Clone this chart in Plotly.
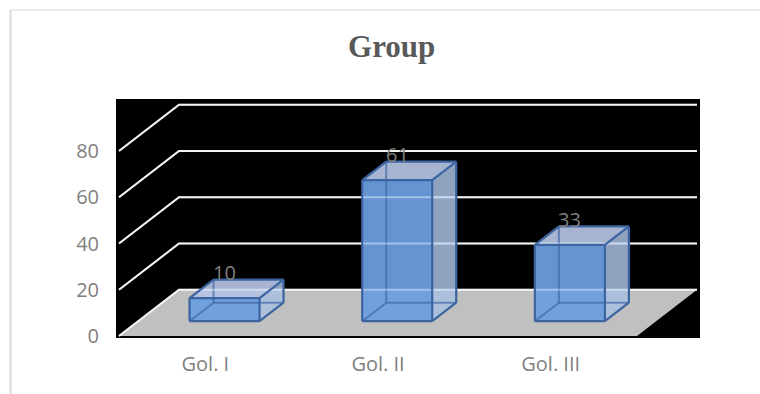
import plotly.graph_objects as go

# ---- data ----
categories = ["Gol. I", "Gol. II", "Gol. III"]
values = [10, 61, 33]
y_ticks = [0, 20, 40, 60, 80]
title_text = "Group"

# ---- pseudo-3D projection parameters (axis units) ----
DX = 0.3475     # horizontal shift of the back wall (category units)
DZ = 20.0       # vertical shift of the back wall (value units)
D_FRONT = 0.32  # bar front depth (0 = front, 1 = back)
D_BACK = 0.72   # bar back depth
HW = 0.2027     # half bar width (category units)

EDGE = "rgb(60,100,160)"
GRID = "#EEEEEE"

fig = go.Figure()

n = len(categories)
left, right = -0.5, n - 0.5

# floor
fig.add_trace(go.Scatter(
    x=[left, right, right + DX, left + DX, left],
    y=[0, 0, DZ, DZ, 0],
    fill="toself", fillcolor="#C0C0C0", mode="none", hoverinfo="skip"))

# gridlines (left wall diagonal + back wall)
gx, gy = [], []
for v in y_ticks:
    gx += [left, left + DX, right + DX, None]
    gy += [v, v + DZ, v + DZ, None]
fig.add_trace(go.Scatter(x=gx, y=gy, mode="lines",
                         line=dict(color=GRID, width=2), hoverinfo="skip"))


def P(i, side, z, d):
    return (i + side * HW + d * DX, z + d * DZ)


def poly(pts, fillcolor):
    xs = [p[0] for p in pts] + [pts[0][0]]
    ys = [p[1] for p in pts] + [pts[0][1]]
    fig.add_trace(go.Scatter(x=xs, y=ys, fill="toself", fillcolor=fillcolor,
                             mode="none", hoverinfo="skip"))


def lines(segs, color, width):
    xs, ys = [], []
    for a, b in segs:
        xs += [a[0], b[0], None]
        ys += [a[1], b[1], None]
    fig.add_trace(go.Scatter(x=xs, y=ys, mode="lines",
                             line=dict(color=color, width=width),
                             hoverinfo="skip"))


visible_segs, hidden_segs = [], []
for i, h in enumerate(values):
    flb = P(i, -1, 0, D_FRONT); frb = P(i, 1, 0, D_FRONT)
    flt = P(i, -1, h, D_FRONT); frt = P(i, 1, h, D_FRONT)
    blb = P(i, -1, 0, D_BACK); brb = P(i, 1, 0, D_BACK)
    blt = P(i, -1, h, D_BACK); brt = P(i, 1, h, D_BACK)
    # faces
    poly([frb, brb, brt, frt], "rgba(168,192,224,0.85)")   # right side
    poly([flb, frb, frt, flt], "rgba(106,158,222,0.94)")   # front
    poly([flt, frt, brt, blt], "rgba(180,195,228,0.92)")   # top
    hidden_segs += [(flb, blb), (blb, brb), (blb, blt)]
    visible_segs += [(flb, frb), (frb, frt), (frt, flt), (flt, flb),
                     (frb, brb), (brb, brt), (brt, frt),
                     (flt, blt), (blt, brt)]

lines(hidden_segs, "rgba(60,100,160,0.65)", 2)

# gridlines faintly showing through the transparent bars
fig.add_trace(go.Scatter(x=gx, y=gy, mode="lines",
                         line=dict(color="rgba(255,255,255,0.35)", width=2),
                         hoverinfo="skip"))

lines(visible_segs, EDGE, 2.2)

# data labels
for i, h in enumerate(values):
    cx = i + D_FRONT * DX
    fig.add_annotation(x=cx, y=h + D_BACK * DZ + 3, text=str(h),
                       showarrow=False, xanchor="center", yanchor="middle",
                       font=dict(family="Open Sans", size=20, color="#7F7F7F"))

# outer chart frame (decorative)
fig.add_shape(type="line", xref="paper", yref="paper",
              x0=(10 - 116) / 584, x1=(760 - 116) / 584,
              y0=(338 - 10) / 239, y1=(338 - 10) / 239,
              line=dict(color="#D9D9D9", width=1))
fig.add_shape(type="line", xref="paper", yref="paper",
              x0=(10.5 - 116) / 584, x1=(10.5 - 116) / 584,
              y0=(338 - 10) / 239, y1=(338 - 400) / 239,
              line=dict(color="#D9D9D9", width=2))

PX_PER_CAT = 172.67
PX_PER_VAL = 2.3125
x0 = left - 3 / PX_PER_CAT
y0 = -2 / PX_PER_VAL

fig.update_layout(
    width=760, height=394,
    margin=dict(l=116, r=60, t=99, b=56),
    paper_bgcolor="white", plot_bgcolor="black",
    showlegend=False,
    title=dict(text=title_text, x=391.7 / 760, xanchor="center",
               xref="container", yref="container",
               y=1 - 46.5 / 394, yanchor="middle",
               font=dict(family="Liberation Serif", size=31, color="#595959",
                         weight="bold")),
    xaxis=dict(range=[x0, x0 + 584 / PX_PER_CAT], tickvals=list(range(n)),
               ticktext=categories, showgrid=False, zeroline=False,
               showline=False, ticks="", ticklabelstandoff=12,
               tickfont=dict(family="Open Sans", size=20, color="#808080"),
               fixedrange=True),
    yaxis=dict(range=[y0, y0 + 239 / PX_PER_VAL], tickvals=y_ticks,
               showgrid=False, zeroline=False, showline=False, ticks="",
               ticklabelstandoff=16,
               tickfont=dict(family="Open Sans", size=20, color="#808080"),
               fixedrange=True),
)

fig.write_html("out.html", config={"displayModeBar": False})
